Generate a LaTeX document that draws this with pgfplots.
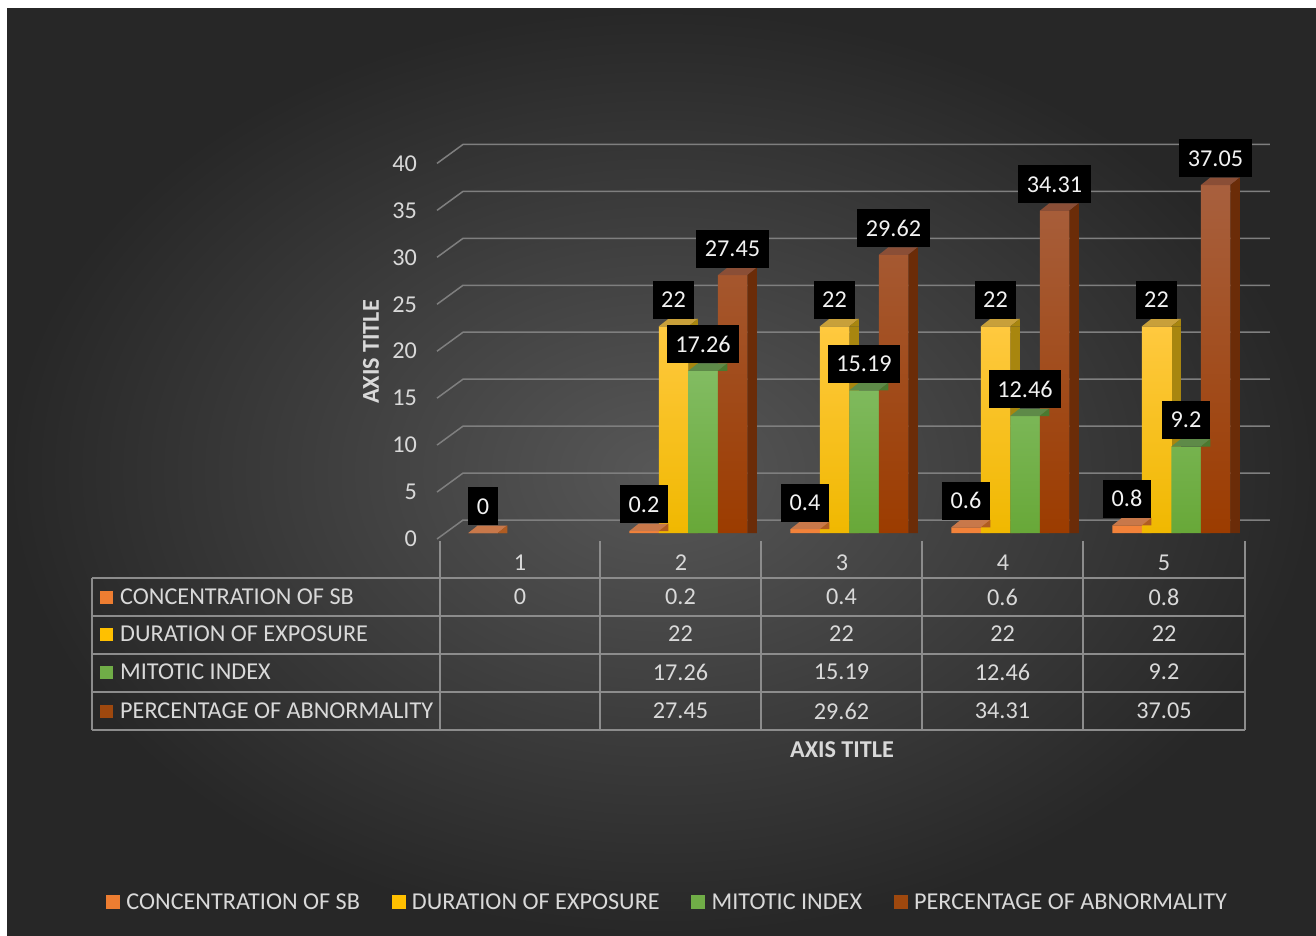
\documentclass[border=0pt]{standalone}
\usepackage{fontspec}
\setmainfont{Carlito}
\usepackage{pgfplots}
\pgfplotsset{compat=1.18}
\usepackage{pgfplotstable}

\newcommand\fsz{\fontsize{24.2pt}{28pt}\selectfont}

\definecolor{bgin}{HTML}{575757}
\definecolor{bgout}{HTML}{272727}
\definecolor{txt}{HTML}{D9D9D9}
\definecolor{lbl}{HTML}{F2F2F2}
\definecolor{gridc}{HTML}{7F7F7F}
\definecolor{tline}{HTML}{8C8C8C}
% keys
\definecolor{oKey}{HTML}{ED7D31}
\definecolor{yKey}{HTML}{FFC000}
\definecolor{gKey}{HTML}{70AD47}
\definecolor{bKey}{HTML}{9E480E}
% orange
\definecolor{oF}{HTML}{F2823A}
\definecolor{oTop}{HTML}{C8784A}
\definecolor{oSide}{HTML}{B05C22}
% yellow
\definecolor{yF1}{HTML}{FFC93F}
\definecolor{yF2}{HTML}{F0B800}
\definecolor{yTop}{HTML}{C8A03A}
\definecolor{ySide}{HTML}{A8860F}
% green
\definecolor{gF1}{HTML}{82BC62}
\definecolor{gF2}{HTML}{68A838}
\definecolor{gTop}{HTML}{5E8A48}
\definecolor{gSide}{HTML}{4A7A30}
% brown
\definecolor{bF1}{HTML}{A8603E}
\definecolor{bF2}{HTML}{9C3C00}
\definecolor{bTop}{HTML}{8A4E36}
\definecolor{bSide}{HTML}{6B2C08}

\pgfplotstableread{
x conc dur mit pct
1 0 nan nan nan
2 0.2 22 17.26 27.45
3 0.4 22 15.19 29.62
4 0.6 22 12.46 34.31
5 0.8 22 9.2 37.05
}\data

% 3D top face and side triangle marks, #2 = bar shift
\newcommand\declfaces[2]{%
 \pgfdeclareplotmark{top#1}{%
  \pgfpathmoveto{\pgfpoint{#2-14.75pt}{0pt}}%
  \pgfpathlineto{\pgfpoint{#2+14.75pt}{0pt}}%
  \pgfpathlineto{\pgfpoint{#2+24.25pt}{7.5pt}}%
  \pgfpathlineto{\pgfpoint{#2-5.25pt}{7.5pt}}%
  \pgfpathclose\pgfusepathqfill}%
 \pgfdeclareplotmark{tri#1}{%
  \pgfpathmoveto{\pgfpoint{#2+14.75pt}{0pt}}%
  \pgfpathlineto{\pgfpoint{#2+24.25pt}{7.5pt}}%
  \pgfpathlineto{\pgfpoint{#2+24.25pt}{0pt}}%
  \pgfpathclose\pgfusepathqfill}%
}
\declfaces{A}{-37pt}
\declfaces{B}{-7.5pt}
\declfaces{C}{22pt}
\declfaces{D}{51.5pt}

\begin{document}
\begin{tikzpicture}[x=1pt,y=1pt,font=\fsz]
\fill[white] (0,0) rectangle (1316,935);
\shade[inner color=bgin, outer color=bgout] (7,0) rectangle (1316,926);
\useasboundingbox (0,0) rectangle (1316,935);

\begin{axis}[
 at={(439.5pt,402pt)}, anchor=south west, scale only axis,
 width=805pt, height=422.55pt,
 xmin=0.5, xmax=5.5, ymin=0, ymax=45, clip=false,
 axis line style={draw=none}, major tick length=0pt,
 xtick={1,2,3,4,5}, ytick={0,5,...,40},
 /pgf/number format/assume math mode=true,
 xticklabel style={anchor=center, inner sep=0pt, yshift=-30pt, text=txt, font=\fsz},
 yticklabel style={anchor=east, inner sep=0pt, xshift=-22.5pt, yshift=-6pt, text=txt, font=\fsz},
 xlabel={AXIS TITLE}, ylabel={AXIS TITLE},
 xlabel style={at={(axis description cs:0.5,-0.5135)}, anchor=center, font=\fsz\bfseries, text=txt},
 ylabel style={at={(axis description cs:-0.0851,0.4283)}, anchor=center, font=\fsz\bfseries, text=txt},
 legend columns=4,
 legend style={at={(axis description cs:-0.41429,-0.87327)}, anchor=west,
   draw=none, fill=none, inner sep=0pt, outer sep=0pt, font=\fsz, text=txt,
   nodes={inner sep=0pt},
   /tikz/every odd column/.append style={column sep=7pt},
   /tikz/every even column/.append style={column sep=31.5pt}},
 every node near coord/.append style={fill=black, text=lbl, font=\fsz,
   inner xsep=8.5pt, inner ysep=0pt, minimum height=38pt, text height=16pt,
   text depth=0pt, anchor=south, yshift=7.5pt},
]
% gridlines (front edge -> back wall)
\addplot[gridc, line width=1.5pt, forget plot] coordinates {(0.4845,-0.64) (0.646,1.38) (5.658,1.38)};
\addplot[gridc, line width=1.5pt, forget plot] coordinates {(0.4845,4.36) (0.646,6.38) (5.658,6.38)};
\addplot[gridc, line width=1.5pt, forget plot] coordinates {(0.4845,9.36) (0.646,11.38) (5.658,11.38)};
\addplot[gridc, line width=1.5pt, forget plot] coordinates {(0.4845,14.36) (0.646,16.38) (5.658,16.38)};
\addplot[gridc, line width=1.5pt, forget plot] coordinates {(0.4845,19.36) (0.646,21.38) (5.658,21.38)};
\addplot[gridc, line width=1.5pt, forget plot] coordinates {(0.4845,24.36) (0.646,26.38) (5.658,26.38)};
\addplot[gridc, line width=1.5pt, forget plot] coordinates {(0.4845,29.36) (0.646,31.38) (5.658,31.38)};
\addplot[gridc, line width=1.5pt, forget plot] coordinates {(0.4845,34.36) (0.646,36.38) (5.658,36.38)};
\addplot[gridc, line width=1.5pt, forget plot] coordinates {(0.4845,39.36) (0.646,41.38) (5.658,41.38)};

% orange: concentration
\addplot[ybar, bar width=9.5pt, bar shift=-17.5pt, fill=oSide, draw=none, forget plot] table[x=x,y=conc]{\data};
\addplot[only marks, mark=topA, mark options={fill=oTop,draw=none}, forget plot] table[x=x,y=conc]{\data};
\addplot[only marks, mark=triA, mark options={fill=oSide,draw=none}, forget plot] table[x=x,y=conc]{\data};
\addplot[ybar, bar width=29.5pt, bar shift=-37pt, fill=oF, draw=none, forget plot] table[x=x,y=conc]{\data};
% yellow: duration
\addplot[ybar, bar width=9.5pt, bar shift=12pt, fill=ySide, draw=none, forget plot] table[x=x,y=dur]{\data};
\addplot[only marks, mark=topB, mark options={fill=yTop,draw=none}, forget plot] table[x=x,y=dur]{\data};
\addplot[only marks, mark=triB, mark options={fill=ySide,draw=none}, forget plot] table[x=x,y=dur]{\data};
\addplot[ybar, bar width=29.5pt, bar shift=-7.5pt, draw=none, top color=yF1, bottom color=yF2, forget plot] table[x=x,y=dur]{\data};
% green: mitotic index
\addplot[ybar, bar width=9.5pt, bar shift=41.5pt, fill=gSide, draw=none, forget plot] table[x=x,y=mit]{\data};
\addplot[only marks, mark=topC, mark options={fill=gTop,draw=none}, forget plot] table[x=x,y=mit]{\data};
\addplot[only marks, mark=triC, mark options={fill=gSide,draw=none}, forget plot] table[x=x,y=mit]{\data};
\addplot[ybar, bar width=29.5pt, bar shift=22pt, draw=none, top color=gF1, bottom color=gF2, forget plot] table[x=x,y=mit]{\data};
% brown: percentage of abnormality
\addplot[ybar, bar width=9.5pt, bar shift=71pt, fill=bSide, draw=none, forget plot] table[x=x,y=pct]{\data};
\addplot[only marks, mark=topD, mark options={fill=bTop,draw=none}, forget plot] table[x=x,y=pct]{\data};
\addplot[only marks, mark=triD, mark options={fill=bSide,draw=none}, forget plot] table[x=x,y=pct]{\data};
\addplot[ybar, bar width=29.5pt, bar shift=51.5pt, draw=none, top color=bF1, bottom color=bF2, forget plot] table[x=x,y=pct]{\data};

% data labels on top
\addplot[ybar, bar width=29.5pt, bar shift=-37pt, draw=none, fill=none, nodes near coords,
  every node near coord/.append style={xshift=-37pt}, forget plot] table[x=x,y=conc]{\data};
\addplot[ybar, bar width=29.5pt, bar shift=-7.5pt, draw=none, fill=none, nodes near coords,
  every node near coord/.append style={xshift=-7.5pt}, forget plot] table[x=x,y=dur]{\data};
\addplot[ybar, bar width=29.5pt, bar shift=22pt, draw=none, fill=none, nodes near coords,
  every node near coord/.append style={xshift=22pt}, forget plot] table[x=x,y=mit]{\data};
\addplot[ybar, bar width=29.5pt, bar shift=51.5pt, draw=none, fill=none, nodes near coords,
  every node near coord/.append style={xshift=51.5pt}, forget plot] table[x=x,y=pct]{\data};

\addlegendimage{legend image code/.code={\fill[oKey] (0pt,-6.5pt) rectangle (13pt,6.5pt);}}
\addlegendentry{CONCENTRATION OF SB}
\addlegendimage{legend image code/.code={\fill[yKey] (0pt,-6.5pt) rectangle (13pt,6.5pt);}}
\addlegendentry{DURATION OF EXPOSURE}
\addlegendimage{legend image code/.code={\fill[gKey] (0pt,-6.5pt) rectangle (13pt,6.5pt);}}
\addlegendentry{MITOTIC INDEX}
\addlegendimage{legend image code/.code={\fill[bKey] (0pt,-6.5pt) rectangle (13pt,6.5pt);}}
\addlegendentry{PERCENTAGE OF ABNORMALITY}
\end{axis}

% data table
\begin{scope}[line width=1.5pt, tline]
\foreach \yy in {357,319,281,243,205} \draw (92,\yy) -- (1245,\yy);
\draw (92,357) -- (92,205);
\foreach \xx in {440,600,761,922,1083,1245} \draw (\xx,394) -- (\xx,205);
\end{scope}
\fill[oKey] (100,331.5) rectangle (113,344.5);
\fill[yKey] (100,294.5) rectangle (113,307.5);
\fill[gKey] (100,256.5) rectangle (113,269.5);
\fill[bKey] (100,217.5) rectangle (113,230.5);
\begin{scope}[every node/.style={text=txt, inner sep=0pt, font=\fsz}]
\node[anchor=west] at (120,338) {CONCENTRATION OF SB};
\node[anchor=west] at (120,301) {DURATION OF EXPOSURE};
\node[anchor=west] at (120,263) {MITOTIC INDEX};
\node[anchor=west] at (120,224) {PERCENTAGE OF ABNORMALITY};
\node at (520,338) {0};
\node at (680.5,338) {0.2};
\node at (841.5,338) {0.4};
\node at (1002.5,338) {0.6};
\node at (1164,338) {0.8};
\node at (680.5,301) {22};
\node at (841.5,301) {22};
\node at (1002.5,301) {22};
\node at (1164,301) {22};
\node at (680.5,263) {17.26};
\node at (841.5,263) {15.19};
\node at (1002.5,263) {12.46};
\node at (1164,263) {9.2};
\node at (680.5,224) {27.45};
\node at (841.5,224) {29.62};
\node at (1002.5,224) {34.31};
\node at (1164,224) {37.05};
\end{scope}
\end{tikzpicture}
\end{document}
